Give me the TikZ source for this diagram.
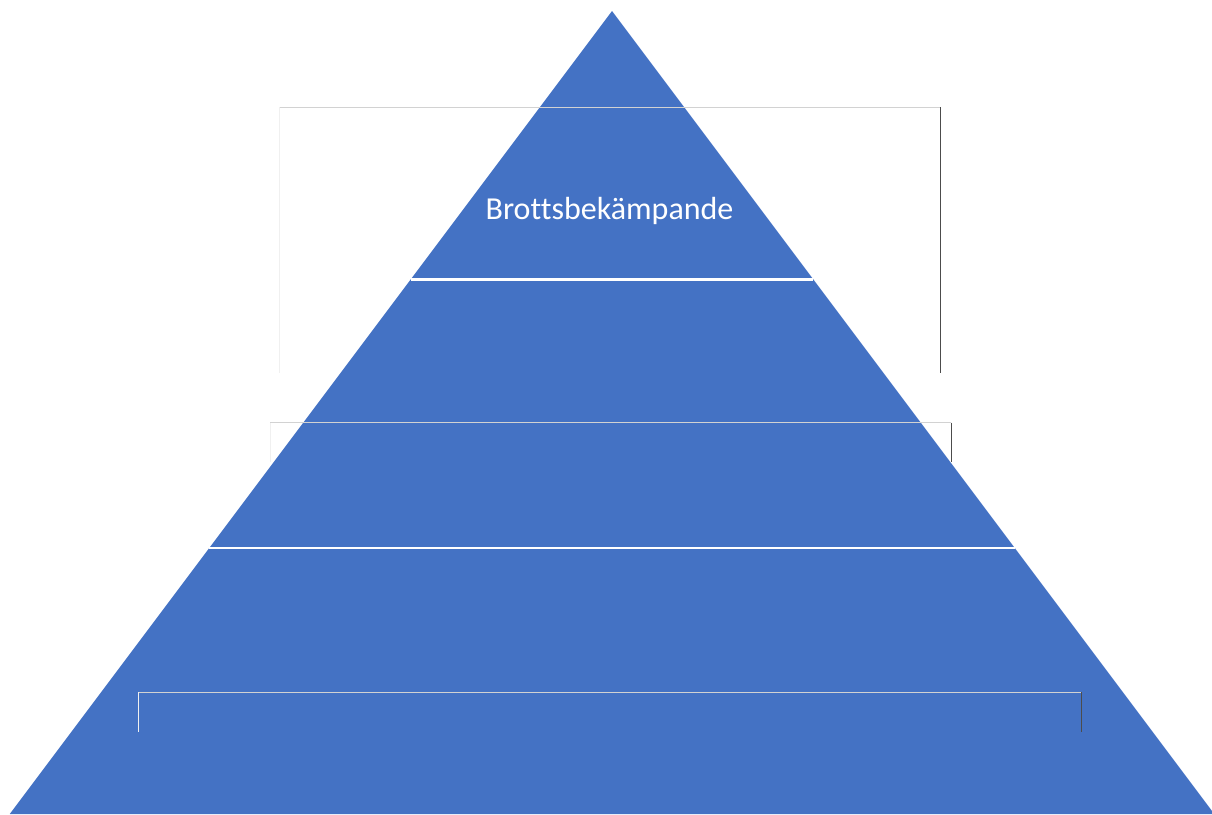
\documentclass[tikz,border=0pt]{standalone}
\usepackage{fontspec}
\setmainfont[Ligatures=NoCommon]{Carlito}
\definecolor{pyrblue}{HTML}{4472C4}

\begin{document}
\begin{tikzpicture}[x=1pt, y=-1pt,
  every node/.style = {text=white, font=\fontsize{32}{38}\selectfont},
  band/.style = {draw=white, line width=2.5pt},
  boxtop/.style = {draw=gray!35, line width=0.9pt},
  boxleft/.style = {draw=gray!12, line width=0.9pt},
  boxright/.style = {draw=black!70, line width=1.4pt}]
  \useasboundingbox (0,0) rectangle (1212,814);
  \clip (0,0) rectangle (1212,814);
  \coordinate (apex) at (612,11);
  \coordinate (baseL) at (9.75,814);
  \coordinate (baseR) at (1214.25,814);
  \fill[pyrblue] (apex) -- (baseL) -- (baseR) -- cycle;
  % separators
  \coordinate (s1L) at (410.6,279.5);
  \coordinate (s1R) at (813.4,279.5);
  \coordinate (s2L) at (209.2,548);
  \coordinate (s2R) at (1014.8,548);
  \draw[band] (s1L) -- (s1R);
  \draw[band] (s2L) -- (s2R);
  % boxes
  \foreach \l/\r/\t/\b in {279.5/940.3/107/372.5, 270.3/951.3/422.7/462, 138.7/1081.7/692/731.5} {
    \draw[boxleft] (\l,\t) -- (\l,\b);
    \draw[boxtop] (\l,\t) -- (\r,\t);
    \draw[boxright] (\r,\t) -- (\r,\b);
  }
  \node[anchor=base] (crime) at (609.5,219) {Brottsbekämpande};
\end{tikzpicture}
\end{document}
